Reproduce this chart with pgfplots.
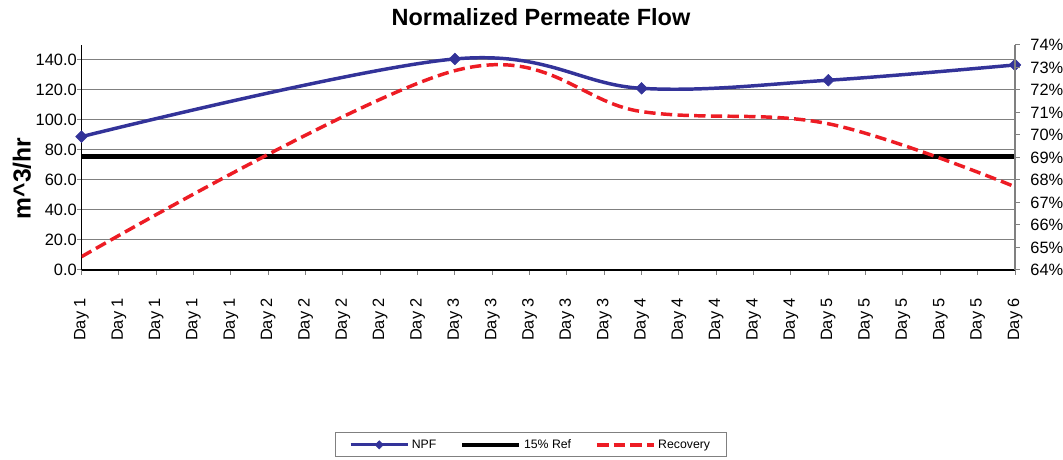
\documentclass[border=0pt]{standalone}
\usepackage{fontspec}
\setmainfont{Liberation Sans}
\usepackage{pgfplots}
\pgfplotsset{compat=1.18}
\definecolor{npfblue}{RGB}{51,51,153}
\definecolor{recred}{RGB}{237,28,36}
\definecolor{gridgray}{RGB}{128,128,128}
\begin{document}
\begin{tikzpicture}
\path[use as bounding box] (0pt,0pt) rectangle (797.25pt,345pt);
\begin{axis}[
  at={(61.125pt,142.5pt)}, anchor=south west,
  scale only axis, width=700.125pt, height=168.75pt,
  xmin=0, xmax=25, ymin=0, ymax=150,
  axis x line*=bottom, axis y line*=left,
  x axis line style={-, line width=1.6pt, black},
  y axis line style={-, line width=1pt, black},
  xtick={0,...,25},
  xticklabels={Day 1,Day 1,Day 1,Day 1,Day 1,Day 2,Day 2,Day 2,Day 2,Day 2,Day 3,Day 3,Day 3,Day 3,Day 3,Day 4,Day 4,Day 4,Day 4,Day 4,Day 5,Day 5,Day 5,Day 5,Day 5,Day 6},
  xticklabel style={rotate=90, anchor=east},
  xticklabel shift=14pt,
  ytick={0,20,...,140},
  yticklabel shift=-3.5pt,
  /pgf/number format/assume math mode=true,
  yticklabel style={/pgf/number format/.cd, fixed, fixed zerofill, precision=1},
  tick label style={font=\fontsize{12.3}{14}\selectfont},
  tick align=outside, major tick length=3.5pt,
  tick style={gridgray, line width=0.75pt},
  ymajorgrids, grid style={gridgray, line width=0.75pt},
  title={Normalized Permeate Flow},
  title style={at={(axis description cs:0.4922,1.088)}, anchor=center, font=\fontsize{17.6}{20}\selectfont\bfseries},
  ylabel={m{\char94}3/hr},
  ylabel style={at={(axis description cs:-0.0637,0.4067)}, anchor=center, rotate=0, font=\fontsize{18.5}{20}\selectfont\bfseries},
]
\addplot[black, line width=4pt] coordinates {(0,75.6) (25,75.6)};
\addplot[npfblue, line width=2.6pt, smooth, tension=0.6, mark=square*, mark size=3.1pt,
  mark options={rotate=45, solid, line width=0.4pt, fill=npfblue}]
  coordinates {(0,88.9) (10,140.7) (15,121.1) (20,126.5) (25,136.7)};
\end{axis}
\begin{axis}[
  at={(61.125pt,142.5pt)}, anchor=south west,
  scale only axis, width=700.125pt, height=168.75pt,
  xmin=0, xmax=25, ymin=64, ymax=74,
  axis x line=none, axis y line*=right,
  y axis line style={-, line width=1.2pt, gridgray},
  ytick={64,...,74},
  yticklabel shift=4.5pt,
  /pgf/number format/assume math mode=true,
  yticklabel={\pgfmathprintnumber{\tick}\%},
  tick label style={font=\fontsize{12.3}{14}\selectfont},
  tick align=outside, major tick length=3.5pt,
  tick style={gridgray, line width=0.75pt},
  legend columns=3,
  legend style={at={(axis description cs:0.4815,-0.777)}, anchor=center,
    draw=gridgray, line width=0.75pt, font=\fontsize{9.2}{11}\selectfont,
    inner xsep=10pt, inner ysep=3pt,
    /tikz/every even column/.append style={column sep=16pt}},
  legend image code/.code={\draw[mark repeat=2,mark phase=2,#1] plot coordinates {(0pt,0pt) (21.4pt,0pt) (42.75pt,0pt)};},
]
\addlegendimage{npfblue, line width=2.2pt, mark=square*, mark size=2.2pt, mark options={rotate=45, solid, line width=0.4pt, fill=npfblue}}
\addlegendentry{NPF}
\addlegendimage{black, line width=3pt}
\addlegendentry{15\% Ref}
\addplot[recred, line width=2.6pt, smooth, tension=0.6, dash pattern=on 8.5pt off 4pt]
  coordinates {(0,64.59) (10,72.86) (15,71.04) (20,70.5) (25,67.70)};
\addlegendentry{Recovery}
\end{axis}
\end{tikzpicture}
\end{document}
